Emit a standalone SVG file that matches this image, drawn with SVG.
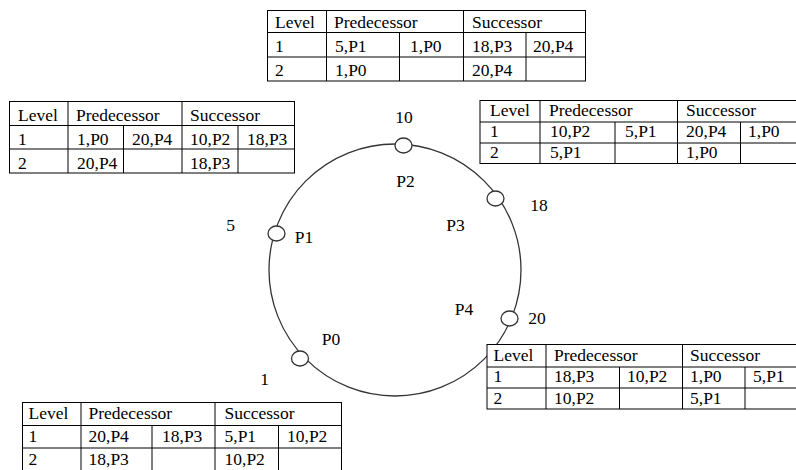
<svg xmlns="http://www.w3.org/2000/svg" width="796" height="470" viewBox="0 0 796 470">
<style>
text{font-family:'Liberation Serif','Times New Roman',Tinos,'DejaVu Serif',serif;font-size:17.5px;fill:#000}
.tb{fill:#fff;stroke:#000;stroke-width:1}
.gl{stroke:#000;stroke-width:1;fill:none}
.ring{fill:none;stroke:#333;stroke-width:1.3}
.nd{fill:#fff;stroke:#333;stroke-width:1.3}
</style>
<rect width="796" height="470" fill="#fff"/>
<g font-family="Liberation Serif, Times New Roman, serif">
<g id="connectors">
<circle class="ring" cx="395" cy="270" r="126"/>
</g>
<g id="node-P2"><ellipse class="nd" cx="403.5" cy="145.5" rx="8.5" ry="7.5"/><text x="404" y="123" text-anchor="middle">10</text><text x="405.5" y="187" text-anchor="middle">P2</text></g>
<g id="node-P3"><ellipse class="nd" cx="495.5" cy="198.5" rx="8.5" ry="7.5"/><text x="539" y="211" text-anchor="middle">18</text><text x="455.5" y="231" text-anchor="middle">P3</text></g>
<g id="node-P1"><ellipse class="nd" cx="276.5" cy="233.5" rx="8.5" ry="7.5"/><text x="230.5" y="231" text-anchor="middle">5</text><text x="304" y="243" text-anchor="middle">P1</text></g>
<g id="node-P4"><ellipse class="nd" cx="509.5" cy="318.5" rx="8.5" ry="7.5"/><text x="537" y="324" text-anchor="middle">20</text><text x="464" y="315" text-anchor="middle">P4</text></g>
<g id="node-P0"><ellipse class="nd" cx="300" cy="358.5" rx="8.5" ry="7.5"/><text x="264.5" y="385" text-anchor="middle">1</text><text x="331" y="345" text-anchor="middle">P0</text></g>

<g id="table-P2">
<rect class="tb" x="267.5" y="10.5" width="318" height="70.5"/>
<path class="gl" d="M267.5 32.5H585.5M267.5 57H585.5M326.5 10.5V81M463.5 10.5V81M399.5 32.5V81M526 32.5V81"/>
<text x="275" y="28">Level</text><text x="334" y="28">Predecessor</text><text x="472" y="28">Successor</text>
<text x="275" y="52">1</text><text x="335" y="52">5,P1</text><text x="410" y="52">1,P0</text><text x="472" y="52">18,P3</text><text x="533" y="52">20,P4</text>
<text x="275" y="76">2</text><text x="335" y="76">1,P0</text><text x="472" y="76">20,P4</text>
</g>

<g id="table-P1">
<rect class="tb" x="9.5" y="101.5" width="285" height="71.5"/>
<path class="gl" d="M9.5 125.5H294.5M9.5 149H294.5M68 101.5V173M182 101.5V173M123.5 125.5V173M238 125.5V173"/>
<text x="18" y="121">Level</text><text x="76" y="121">Predecessor</text><text x="190" y="121">Successor</text>
<text x="18" y="145">1</text><text x="77" y="145">1,P0</text><text x="132" y="145">20,P4</text><text x="190" y="145">10,P2</text><text x="247" y="145">18,P3</text>
<text x="18" y="169">2</text><text x="77" y="169">20,P4</text><text x="190" y="169">18,P3</text>
</g>

<g id="table-P3">
<rect class="tb" x="480" y="100.5" width="330" height="63"/>
<path class="gl" d="M480 122H810M480 143H810M540 100.5V163.5M677.5 100.5V163.5M615 122V163.5M740.5 122V163.5"/>
<text x="490" y="115.5">Level</text><text x="549" y="115.5">Predecessor</text><text x="686" y="115.5">Successor</text>
<text x="490" y="137">1</text><text x="550" y="137">10,P2</text><text x="625" y="137">5,P1</text><text x="686" y="137">20,P4</text><text x="748" y="137">1,P0</text>
<text x="490" y="157.5">2</text><text x="550" y="157.5">5,P1</text><text x="686" y="157.5">1,P0</text>
</g>

<g id="table-P4">
<rect class="tb" x="487" y="344.5" width="330" height="64.5"/>
<path class="gl" d="M487 367H817M487 388H817M546 344.5V409M682.5 344.5V409M619.5 367V409M745 367V409"/>
<text x="493.5" y="361">Level</text><text x="554" y="361">Predecessor</text><text x="690" y="361">Successor</text>
<text x="493.5" y="382">1</text><text x="554" y="382">18,P3</text><text x="627" y="382">10,P2</text><text x="690" y="382">1,P0</text><text x="753" y="382">5,P1</text>
<text x="493.5" y="403.5">2</text><text x="554" y="403.5">10,P2</text><text x="690" y="403.5">5,P1</text>
</g>

<g id="table-P0">
<rect class="tb" x="22.5" y="402.5" width="319" height="80"/>
<path class="gl" d="M22.5 425.5H341.5M22.5 448H341.5M81 402.5V482M215 402.5V482M152 425.5V482M278.5 425.5V482"/>
<text x="28.5" y="419">Level</text><text x="88.5" y="419">Predecessor</text><text x="224.5" y="419">Successor</text>
<text x="28.5" y="441.5">1</text><text x="88.5" y="441.5">20,P4</text><text x="162" y="441.5">18,P3</text><text x="224.5" y="441.5">5,P1</text><text x="287" y="441.5">10,P2</text>
<text x="28.5" y="465">2</text><text x="88.5" y="465">18,P3</text><text x="224.5" y="465">10,P2</text>
</g>
</g>
</svg>
